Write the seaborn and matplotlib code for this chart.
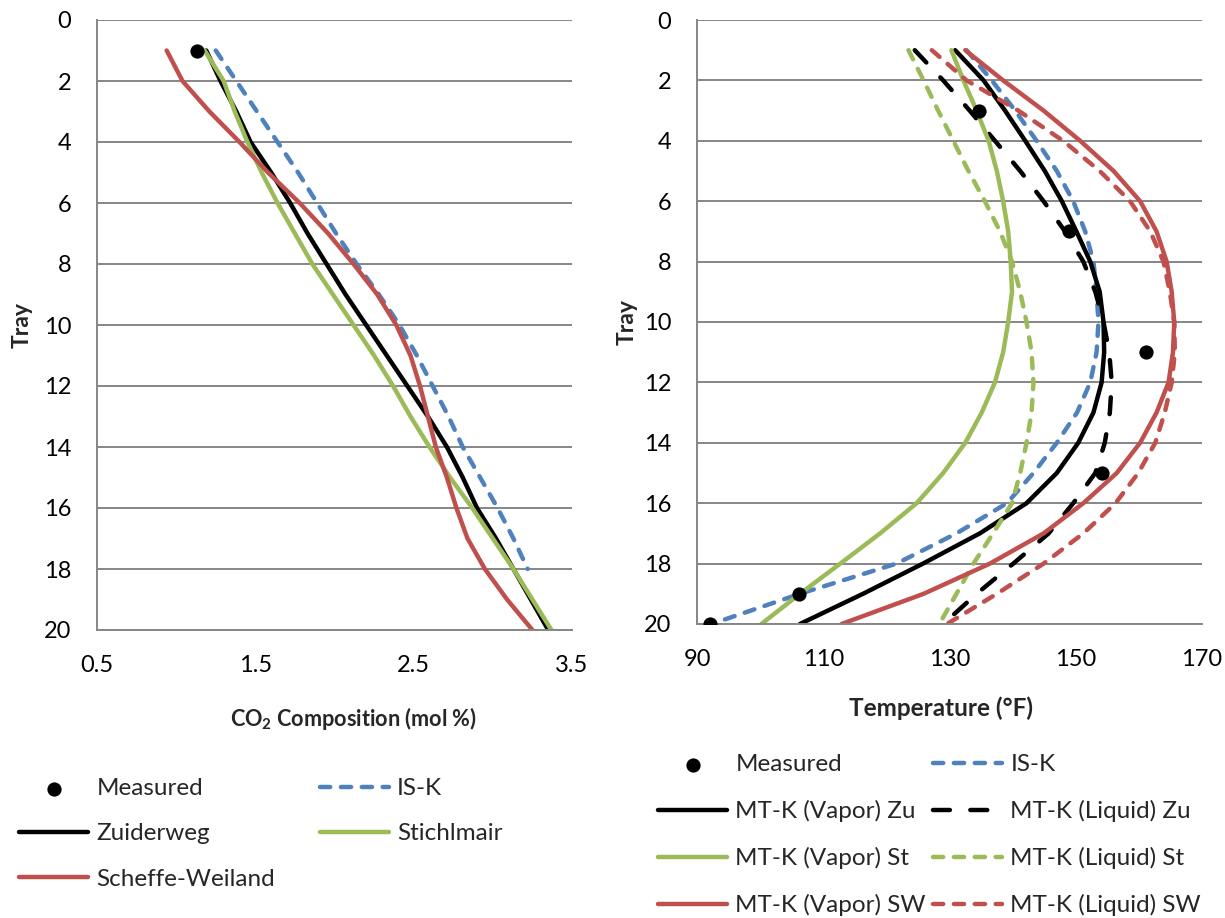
import numpy as np
import pandas as pd
import matplotlib
matplotlib.use("Agg")
import matplotlib.pyplot as plt
import seaborn as sns

# ---------------- data ----------------
trays = list(range(1, 21))
trays_isk_left = list(range(1, 19))

meas_left_tray = [1]
meas_left_co2 = [1.13]

co2_zuiderweg = [1.19, 1.28, 1.38, 1.47, 1.60, 1.72, 1.83, 1.95, 2.07, 2.20,
                 2.33, 2.46, 2.59, 2.71, 2.81, 2.90, 3.02, 3.13, 3.24, 3.35]
co2_stichlmair = [1.18, 1.30, 1.37, 1.45, 1.54, 1.64, 1.75, 1.86, 1.99, 2.12,
                  2.25, 2.37, 2.48, 2.60, 2.73, 2.87, 3.00, 3.13, 3.25, 3.37]
co2_isk = [1.25, 1.38, 1.51, 1.64, 1.77, 1.89, 2.01, 2.14, 2.28, 2.41,
           2.52, 2.62, 2.72, 2.81, 2.92, 3.03, 3.13, 3.22]
co2_scheffe = [0.94, 1.04, 1.21, 1.40, 1.58, 1.78, 1.96, 2.12, 2.27, 2.39,
               2.48, 2.54, 2.59, 2.64, 2.71, 2.77, 2.84, 2.95, 3.09, 3.25]

meas_right_tray = [3, 7, 11, 15, 19, 20]
meas_right_temp = [134.6, 149.0, 161.1, 154.1, 106.1, 92.1]

t_isk = [132.7, 136.7, 140.4, 143.8, 147.0, 149.6, 151.5, 152.8, 153.3, 153.6,
         153.3, 152.3, 150.2, 147.0, 143.3, 139.1, 131.1, 121.6, 106.3, 92.3]
t_vap_zu = [130.9, 135.4, 138.8, 142.0, 145.1, 147.8, 150.1, 152.3, 153.8, 154.4,
            154.5, 154.1, 152.8, 150.4, 147.0, 142.2, 134.8, 125.8, 116.3, 106.3]
t_liq_zu = [124.5, 129.0, 133.2, 137.2, 141.2, 144.9, 148.3, 151.2, 153.1, 154.4,
            155.3, 155.7, 155.4, 154.6, 153.1, 149.6, 145.7, 140.1, 134.3, 129.0]
t_vap_st = [130.3, 132.2, 134.3, 136.2, 137.5, 138.5, 139.3, 139.7, 139.9, 139.3,
            138.5, 137.2, 135.1, 132.5, 129.0, 124.8, 119.0, 112.7, 106.3, 100.2]
t_liq_st = [123.5, 125.9, 128.2, 130.6, 133.0, 135.6, 138.0, 139.9, 141.2, 142.2,
            143.0, 143.3, 143.0, 142.2, 141.2, 139.9, 136.9, 133.8, 131.1, 128.4]
t_vap_sw = [132.5, 138.5, 144.9, 150.7, 156.0, 160.2, 162.8, 164.4, 165.2, 165.6,
            165.4, 164.7, 162.8, 160.2, 156.5, 151.2, 144.9, 136.4, 125.9, 112.9]
t_liq_sw = [127.2, 132.7, 140.9, 148.0, 153.8, 158.6, 161.8, 163.9, 164.9, 165.6,
            165.7, 165.2, 164.1, 162.6, 159.9, 156.3, 151.2, 144.9, 137.5, 129.6]

left_xticks = [0.5, 1.5, 2.5, 3.5]
right_xticks = [90, 110, 130, 150, 170]
yticks = list(range(0, 21, 2))

# ---------------- style ----------------
sns.set_style("white")
plt.rcParams['font.family'] = ['Lato', 'DejaVu Sans']
plt.rcParams['mathtext.fontset'] = 'custom'
plt.rcParams['mathtext.rm'] = 'Lato'
plt.rcParams['mathtext.bf'] = 'Lato:bold'

BLUE = '#4F81BD'
RED = '#C0504D'
GREEN = '#9BBB59'
BLACK = '#000000'
GRID = '#868686'
LW = 3.2

W, H = 1225, 918
fig = plt.figure(figsize=(W / 100, H / 100), dpi=100)

def px_axes(l, r, t, b):
    return fig.add_axes([l / W, 1 - b / H, (r - l) / W, (b - t) / H])

axL = px_axes(97, 572, 20, 630)
axR = px_axes(697, 1202, 20, 624)

def line(ax, x, y, color, ls, label):
    df = pd.DataFrame({'x': x, 'y': y})
    sns.lineplot(data=df, x='x', y='y', ax=ax, color=color, linestyle=ls,
                 linewidth=LW, sort=False, orient='y', estimator=None,
                 label=label, dash_capstyle='round', solid_capstyle='round',
                 solid_joinstyle='round')

def points(ax, x, y, label):
    df = pd.DataFrame({'x': x, 'y': y})
    sns.scatterplot(data=df, x='x', y='y', ax=ax, color=BLACK, s=105,
                    edgecolor=BLACK, linewidth=0, label=label, zorder=5)

DASH_SHORT = (0, (2.3, 2.4))
DASH_LONG = (0, (3.8, 4.6))

# left panel
points(axL, meas_left_co2, meas_left_tray, 'Measured')
line(axL, co2_isk, trays_isk_left, BLUE, DASH_SHORT, 'IS-K')
line(axL, co2_zuiderweg, trays, BLACK, '-', 'Zuiderweg')
line(axL, co2_stichlmair, trays, GREEN, '-', 'Stichlmair')
line(axL, co2_scheffe, trays, RED, '-', 'Scheffe-Weiland')

# right panel
points(axR, meas_right_temp, meas_right_tray, 'Measured')
line(axR, t_isk, trays, BLUE, DASH_SHORT, 'IS-K')
line(axR, t_vap_zu, trays, BLACK, '-', 'MT-K (Vapor) Zu')
line(axR, t_liq_zu, trays, BLACK, DASH_LONG, 'MT-K (Liquid) Zu')
line(axR, t_vap_st, trays, GREEN, '-', 'MT-K (Vapor) St')
line(axR, t_liq_st, trays, GREEN, DASH_SHORT, 'MT-K (Liquid) St')
line(axR, t_vap_sw, trays, RED, '-', 'MT-K (Vapor) SW')
line(axR, t_liq_sw, trays, RED, DASH_SHORT, 'MT-K (Liquid) SW')

FS = 17
for ax, xt, xl in [(axL, left_xticks, (0.5, 3.5)), (axR, right_xticks, (90, 170))]:
    ax.set_xlim(*xl)
    ax.set_ylim(20, 0)
    ax.set_xticks(xt)
    ax.set_yticks(yticks)
    ax.set_xticklabels([('%g' % v) for v in xt])
    ax.set_yticklabels([str(v) for v in yticks])
    ax.yaxis.grid(True, color=GRID, linewidth=1.4)
    ax.xaxis.grid(False)
    ax.set_axisbelow(True)
    for s in ['top', 'right']:
        ax.spines[s].set_visible(False)
    for s in ['left', 'bottom']:
        ax.spines[s].set_color(GRID)
        ax.spines[s].set_linewidth(1.4)
    ax.tick_params(axis='y', direction='out', length=6.5, width=1.4, color=GRID,
                   labelsize=FS, pad=12)
    ax.tick_params(axis='x', direction='in', length=7, width=1.4, color=GRID,
                   labelsize=FS, pad=18)
    ax.set_ylabel('Tray', fontsize=16.5, fontweight='bold')
    ax.yaxis.label.set_va('center')
    for lab in ax.get_xticklabels() + ax.get_yticklabels():
        lab.set_color('black')

axL.set_xlabel(r'CO$_\mathbf{2}$ Composition (mol %)', fontsize=15.6, fontweight='bold')
axR.set_xlabel('Temperature (°F)', fontsize=17.5, fontweight='bold')
axL.xaxis.set_label_coords((353 - 97) / 475, -(718 - 630) / 610)
axR.xaxis.set_label_coords((941 - 697) / 505, -(708 - 624) / 604)
axL.xaxis.label.set_va('center')
axR.xaxis.label.set_va('center')
axL.yaxis.set_label_coords((22 - 97) / 475, 0.5)
axR.yaxis.set_label_coords((627 - 697) / 505, 0.5)

# legends
LFS = 17.5
hL, lL = axL.get_legend_handles_labels()
dL = dict(zip(lL, hL))
orderL = ['Measured', 'Zuiderweg', 'Scheffe-Weiland', 'IS-K', 'Stichlmair']
axL.legend([dL[k] for k in orderL], orderL, ncol=2, frameon=False,
           loc='upper left', bbox_to_anchor=(19 / W, 1 - 778 / H),
           bbox_transform=fig.transFigure, borderpad=0, borderaxespad=0,
           fontsize=LFS, handlelength=2.85, handletextpad=0.33,
           columnspacing=1.85, labelspacing=1.0, scatterpoints=1)

hR, lR = axR.get_legend_handles_labels()
dR = dict(zip(lR, hR))
orderR = ['Measured', 'MT-K (Vapor) Zu', 'MT-K (Vapor) St', 'MT-K (Vapor) SW',
          'IS-K', 'MT-K (Liquid) Zu', 'MT-K (Liquid) St', 'MT-K (Liquid) SW']
axR.legend([dR[k] for k in orderR], orderR, ncol=2, frameon=False,
           loc='upper left', bbox_to_anchor=(658 / W, 1 - 754 / H),
           bbox_transform=fig.transFigure, borderpad=0, borderaxespad=0,
           fontsize=LFS, handlelength=2.85, handletextpad=0.33,
           columnspacing=0.3, labelspacing=1.03, scatterpoints=1)

fig.savefig('out.png', dpi=100)
